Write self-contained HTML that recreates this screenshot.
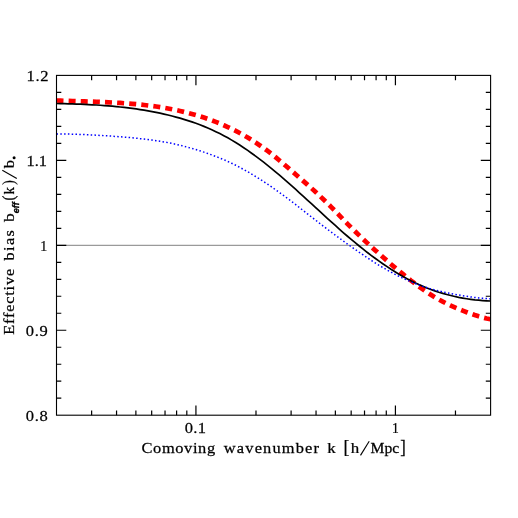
<!DOCTYPE html>
<html><head><meta charset="utf-8"><title>Effective bias</title>
<style>
html,body{margin:0;padding:0;background:#fff;}
body{width:518px;height:518px;overflow:hidden;font-family:"Liberation Serif",serif;}
svg{display:block;will-change:transform;}
</style></head>
<body>
<svg width="518" height="518" viewBox="0 0 518 518">
<rect x="0" y="0" width="518" height="518" fill="#ffffff"/>
<defs><mask id="m" maskUnits="userSpaceOnUse" x="0" y="0" width="518" height="518"><rect x="0" y="0" width="518" height="518" fill="#fff"/></mask><clipPath id="c"><rect x="56.5" y="75.4" width="434.10" height="339.80"/></clipPath></defs>
<line x1="56.5" y1="245.30" x2="490.6" y2="245.30" stroke="#000" stroke-width="0.5"/>
<g clip-path="url(#c)" fill="none">
<path d="M56.5,100.48 L60.5,100.64 L64.5,100.79 L68.4,100.93 L72.4,101.06 L76.4,101.19 L80.4,101.31 L84.4,101.43 L88.4,101.56 L92.3,101.69 L96.3,101.83 L100.3,101.98 L104.3,102.14 L108.3,102.32 L112.3,102.52 L116.2,102.73 L120.2,102.97 L124.2,103.23 L128.2,103.52 L132.2,103.84 L136.2,104.19 L140.1,104.58 L144.1,105.01 L148.1,105.47 L152.1,105.98 L156.1,106.53 L160.0,107.13 L164.0,107.78 L168.0,108.49 L172.0,109.24 L176.0,110.06 L180.0,110.93 L183.9,111.87 L187.9,112.87 L191.9,113.94 L195.9,115.08 L199.9,116.29 L203.9,117.58 L207.8,118.94 L211.8,120.39 L215.8,121.91 L219.8,123.52 L223.8,125.22 L227.8,127.02 L231.7,128.91 L235.7,130.90 L239.7,132.99 L243.7,135.20 L247.7,137.51 L251.6,139.95 L255.6,142.50 L259.6,145.18 L263.6,147.98 L267.6,150.92 L271.6,153.99 L275.5,157.18 L279.5,160.47 L283.5,163.83 L287.5,167.25 L291.5,170.71 L295.5,174.17 L299.4,177.64 L303.4,181.12 L307.4,184.62 L311.4,188.17 L315.4,191.78 L319.3,195.46 L323.3,199.23 L327.3,203.08 L331.3,207.05 L335.3,211.12 L339.3,215.27 L343.2,219.44 L347.2,223.56 L351.2,227.60 L355.2,231.54 L359.2,235.40 L363.2,239.18 L367.1,242.89 L371.1,246.55 L375.1,250.17 L379.1,253.75 L383.1,257.28 L387.1,260.77 L391.0,264.22 L395.0,267.60 L399.0,270.93 L403.0,274.19 L407.0,277.39 L410.9,280.51 L414.9,283.55 L418.9,286.51 L422.9,289.38 L426.9,292.14 L430.9,294.76 L434.8,297.21 L438.8,299.51 L442.8,301.66 L446.8,303.68 L450.8,305.58 L454.8,307.37 L458.7,309.06 L462.7,310.67 L466.7,312.21 L470.7,313.69 L474.7,315.07 L478.7,316.34 L482.6,317.48 L486.6,318.47 L490.6,319.28" stroke="#ff0000" stroke-width="4.7" stroke-dasharray="7 5.13"/>
<path d="M56.5,103.50 L60.5,103.59 L64.5,103.69 L68.4,103.80 L72.4,103.93 L76.4,104.06 L80.4,104.22 L84.4,104.39 L88.4,104.57 L92.3,104.78 L96.3,105.02 L100.3,105.27 L104.3,105.55 L108.3,105.86 L112.3,106.20 L116.2,106.57 L120.2,106.98 L124.2,107.41 L128.2,107.89 L132.2,108.40 L136.2,108.95 L140.1,109.55 L144.1,110.19 L148.1,110.87 L152.1,111.60 L156.1,112.38 L160.0,113.20 L164.0,114.09 L168.0,115.02 L172.0,116.01 L176.0,117.06 L180.0,118.17 L183.9,119.35 L187.9,120.60 L191.9,121.92 L195.9,123.32 L199.9,124.81 L203.9,126.38 L207.8,128.04 L211.8,129.80 L215.8,131.65 L219.8,133.61 L223.8,135.67 L227.8,137.85 L231.7,140.14 L235.7,142.54 L239.7,145.06 L243.7,147.68 L247.7,150.40 L251.6,153.22 L255.6,156.13 L259.6,159.12 L263.6,162.20 L267.6,165.35 L271.6,168.58 L275.5,171.87 L279.5,175.22 L283.5,178.63 L287.5,182.10 L291.5,185.61 L295.5,189.17 L299.4,192.76 L303.4,196.38 L307.4,200.02 L311.4,203.67 L315.4,207.33 L319.3,210.99 L323.3,214.64 L327.3,218.28 L331.3,221.89 L335.3,225.48 L339.3,229.03 L343.2,232.53 L347.2,235.99 L351.2,239.38 L355.2,242.71 L359.2,245.98 L363.2,249.17 L367.1,252.29 L371.1,255.34 L375.1,258.30 L379.1,261.17 L383.1,263.96 L387.1,266.66 L391.0,269.26 L395.0,271.77 L399.0,274.17 L403.0,276.47 L407.0,278.65 L410.9,280.73 L414.9,282.69 L418.9,284.54 L422.9,286.28 L426.9,287.92 L430.9,289.44 L434.8,290.87 L438.8,292.19 L442.8,293.41 L446.8,294.53 L450.8,295.55 L454.8,296.49 L458.7,297.33 L462.7,298.08 L466.7,298.74 L470.7,299.31 L474.7,299.81 L478.7,300.22 L482.6,300.55 L486.6,300.80 L490.6,300.98" stroke="#000000" stroke-width="1.7"/>
<path d="M56.5,133.90 L60.5,133.93 L64.5,133.99 L68.4,134.07 L72.4,134.17 L76.4,134.30 L80.4,134.44 L84.4,134.61 L88.4,134.79 L92.3,134.99 L96.3,135.20 L100.3,135.43 L104.3,135.67 L108.3,135.93 L112.3,136.20 L116.2,136.48 L120.2,136.78 L124.2,137.10 L128.2,137.44 L132.2,137.81 L136.2,138.20 L140.1,138.63 L144.1,139.08 L148.1,139.57 L152.1,140.09 L156.1,140.66 L160.0,141.27 L164.0,141.94 L168.0,142.67 L172.0,143.46 L176.0,144.32 L180.0,145.24 L183.9,146.23 L187.9,147.29 L191.9,148.41 L195.9,149.59 L199.9,150.84 L203.9,152.15 L207.8,153.52 L211.8,154.95 L215.8,156.45 L219.8,158.02 L223.8,159.68 L227.8,161.44 L231.7,163.29 L235.7,165.26 L239.7,167.33 L243.7,169.49 L247.7,171.74 L251.6,174.09 L255.6,176.51 L259.6,179.01 L263.6,181.59 L267.6,184.23 L271.6,186.94 L275.5,189.71 L279.5,192.54 L283.5,195.43 L287.5,198.38 L291.5,201.39 L295.5,204.45 L299.4,207.55 L303.4,210.67 L307.4,213.80 L311.4,216.92 L315.4,220.02 L319.3,223.10 L323.3,226.15 L327.3,229.18 L331.3,232.18 L335.3,235.14 L339.3,238.07 L343.2,240.97 L347.2,243.84 L351.2,246.68 L355.2,249.49 L359.2,252.26 L363.2,254.98 L367.1,257.65 L371.1,260.26 L375.1,262.81 L379.1,265.28 L383.1,267.67 L387.1,269.98 L391.0,272.19 L395.0,274.31 L399.0,276.33 L403.0,278.26 L407.0,280.09 L410.9,281.81 L414.9,283.43 L418.9,284.95 L422.9,286.36 L426.9,287.67 L430.9,288.86 L434.8,289.95 L438.8,290.95 L442.8,291.87 L446.8,292.72 L450.8,293.52 L454.8,294.29 L458.7,295.02 L462.7,295.71 L466.7,296.35 L470.7,296.94 L474.7,297.46 L478.7,297.92 L482.6,298.31 L486.6,298.62 L490.6,298.85" stroke="#0000ff" stroke-width="1.5" stroke-dasharray="1.5 2.3"/>
</g>
<path d="M56.5,398.21h4.8M490.6,398.21h-4.8M56.5,381.22h4.8M490.6,381.22h-4.8M56.5,364.23h4.8M490.6,364.23h-4.8M56.5,347.24h4.8M490.6,347.24h-4.8M56.5,330.25h9.8M490.6,330.25h-9.8M56.5,313.26h4.8M490.6,313.26h-4.8M56.5,296.27h4.8M490.6,296.27h-4.8M56.5,279.28h4.8M490.6,279.28h-4.8M56.5,262.29h4.8M490.6,262.29h-4.8M56.5,245.30h9.8M490.6,245.30h-9.8M56.5,228.31h4.8M490.6,228.31h-4.8M56.5,211.32h4.8M490.6,211.32h-4.8M56.5,194.33h4.8M490.6,194.33h-4.8M56.5,177.34h4.8M490.6,177.34h-4.8M56.5,160.35h9.8M490.6,160.35h-9.8M56.5,143.36h4.8M490.6,143.36h-4.8M56.5,126.37h4.8M490.6,126.37h-4.8M56.5,109.38h4.8M490.6,109.38h-4.8M56.5,92.39h4.8M490.6,92.39h-4.8M91.63,415.2v-4.8M91.63,75.4v4.8M116.55,415.2v-4.8M116.55,75.4v4.8M135.88,415.2v-4.8M135.88,75.4v4.8M151.68,415.2v-4.8M151.68,75.4v4.8M165.03,415.2v-4.8M165.03,75.4v4.8M176.60,415.2v-4.8M176.60,75.4v4.8M186.81,415.2v-4.8M186.81,75.4v4.8M195.93,415.2v-9.8M195.93,75.4v9.8M255.99,415.2v-4.8M255.99,75.4v4.8M291.11,415.2v-4.8M291.11,75.4v4.8M316.04,415.2v-4.8M316.04,75.4v4.8M335.37,415.2v-4.8M335.37,75.4v4.8M351.17,415.2v-4.8M351.17,75.4v4.8M364.52,415.2v-4.8M364.52,75.4v4.8M376.09,415.2v-4.8M376.09,75.4v4.8M386.29,415.2v-4.8M386.29,75.4v4.8M395.42,415.2v-9.8M395.42,75.4v9.8M455.47,415.2v-4.8M455.47,75.4v4.8" stroke="#000" stroke-width="1.2" fill="none"/>
<rect x="56.5" y="75.4" width="434.10" height="339.80" fill="none" stroke="#000" stroke-width="1.1"/>
<g fill="#000" mask="url(#m)">
<text transform="translate(26.56,80.60) scale(1.0700,1)" font-family='"Liberation Serif", serif' font-size="15.45" letter-spacing="0.553" stroke="#000" stroke-width="0.25">1.2</text>
<text transform="translate(26.58,165.50) scale(1.0563,1)" font-family='"Liberation Serif", serif' font-size="15.45" stroke="#000" stroke-width="0.25">1.1</text>
<text transform="translate(40.19,250.70) scale(0.8984,1)" font-family='"Liberation Serif", serif' font-size="15.45" stroke="#000" stroke-width="0.25">1</text>
<text transform="translate(25.77,335.75) scale(1.0700,1)" font-family='"Liberation Serif", serif' font-size="15.45" letter-spacing="0.674" stroke="#000" stroke-width="0.25">0.9</text>
<text transform="translate(25.77,420.75) scale(1.0700,1)" font-family='"Liberation Serif", serif' font-size="15.45" letter-spacing="0.650" stroke="#000" stroke-width="0.25">0.8</text>
<text transform="translate(184.77,433.10) scale(1.0700,1)" font-family='"Liberation Serif", serif' font-size="15.45" letter-spacing="0.260" stroke="#000" stroke-width="0.25">0.1</text>
<text transform="translate(392.12,433.10) scale(0.8801,1)" font-family='"Liberation Serif", serif' font-size="15.45" stroke="#000" stroke-width="0.25">1</text>
<text transform="translate(141.53,452.80) scale(1.0700,1)" font-family='"Liberation Serif", serif' font-size="15.35" letter-spacing="0.577" stroke="#000" stroke-width="0.25">Comoving</text>
<text transform="translate(223.80,452.80) scale(1.0700,1)" font-family='"Liberation Serif", serif' font-size="15.35" letter-spacing="1.090" stroke="#000" stroke-width="0.25">wavenumber</text>
<text transform="translate(327.28,452.80) scale(1.1106,1)" font-family='"Liberation Serif", serif' font-size="15.35" stroke="#000" stroke-width="0.25">k</text>
<text transform="translate(343.57,453.30) scale(0.9802,1)" font-family='"Liberation Serif", serif' font-size="18.3" stroke="#000" stroke-width="0.25">[</text>
<text transform="translate(350.65,452.80) scale(1.1039,1)" font-family='"Liberation Serif", serif' font-size="15.35" stroke="#000" stroke-width="0.25">h</text>
<line x1="360.5" y1="455.4" x2="369.2" y2="441.3" stroke="#000" stroke-width="1.1"/>
<text transform="translate(370.46,452.80) scale(1.0203,1)" font-family='"Liberation Serif", serif' font-size="15.35" stroke="#000" stroke-width="0.25">Mpc</text>
<text transform="translate(400.20,453.30) scale(0.9067,1)" font-family='"Liberation Serif", serif' font-size="18.3" stroke="#000" stroke-width="0.25">]</text>
<g transform="translate(14.3,0) rotate(-90)">
<text transform="translate(-334.75,0.00) scale(1.0700,1)" font-family='"Liberation Serif", serif' font-size="15.15" letter-spacing="0.795" stroke="#000" stroke-width="0.25">Effective</text>
<text transform="translate(-260.60,0.00) scale(1.0700,1)" font-family='"Liberation Serif", serif' font-size="15.15" letter-spacing="1.356" stroke="#000" stroke-width="0.25">bias</text>
<text transform="translate(-222.00,0.00) scale(1.1573,1)" font-family='"Liberation Serif", serif' font-size="15.15" stroke="#000" stroke-width="0.25">b</text>
<text transform="translate(-213.27,4.50) scale(0.9725,1)" font-family='"Liberation Sans", sans-serif' font-size="9.4" font-weight="bold" font-style="italic" stroke="#000" stroke-width="0.35">eff</text>
<text transform="translate(-200.53,-0.70) scale(0.9036,1)" font-family='"Liberation Serif", serif' font-size="16.3" stroke="#000" stroke-width="0.25">(</text>
<text transform="translate(-194.38,0.00) scale(0.9880,1)" font-family='"Liberation Serif", serif' font-size="15.15" stroke="#000" stroke-width="0.25">k</text>
<text transform="translate(-184.73,-0.70) scale(0.8323,1)" font-family='"Liberation Serif", serif' font-size="16.3" stroke="#000" stroke-width="0.25">)</text>
<text transform="translate(-168.30,0.00) scale(1.0858,1)" font-family='"Liberation Serif", serif' font-size="15.15" stroke="#000" stroke-width="0.25">b</text>
</g>
<line x1="16.8" y1="178.4" x2="2.3" y2="170.3" stroke="#000" stroke-width="1.1"/>
<circle cx="14.1" cy="157.7" r="1.5" fill="#000"/>
</g>
</svg>
</body></html>
